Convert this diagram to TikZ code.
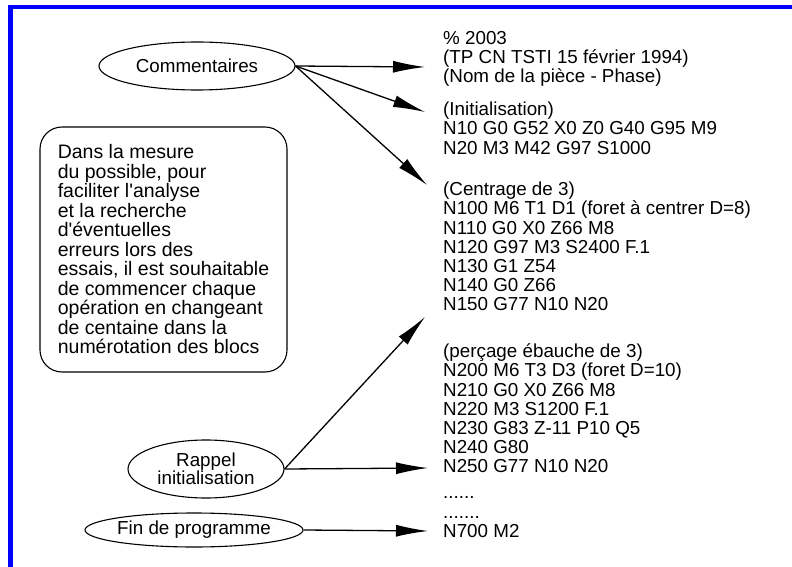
\documentclass[tikz,border=0pt]{standalone}
\usepackage{fontspec}
\setmainfont{Liberation Sans}
\usetikzlibrary{arrows.meta,matrix,shapes.geometric}

\begin{document}
\begin{tikzpicture}[x=1pt,y=1pt,
  every node/.style={font=\fontsize{18.8}{19.2}\selectfont},
  bulle/.style={draw,ellipse,line width=1.1pt,inner sep=0pt,align=center},
  fleche/.style={line width=1.3pt,-{Latex[length=32pt,width=12pt]}}]
\useasboundingbox (0,0) rectangle (792,-567);
\fill[blue] (8,-5) rectangle (792,-9.5);
\fill[blue] (8,-5) rectangle (13,-567);

\node[bulle,minimum width=196pt,minimum height=48pt] (com) at (197,-66) {Commentaires};
\node[draw,line width=1.1pt,rounded corners=22pt,align=left,minimum width=247pt,minimum height=245pt,
  font=\fontsize{19.5}{19.5}\selectfont] (note) at (163.5,-249.5) {Dans la mesure\\du possible, pour\\faciliter l\textquotesingle analyse\\et la recherche\\d\textquotesingle éventuelles\\erreurs lors des\\essais, il est souhaitable\\de commencer chaque\\opération en changeant\\de centaine dans la\\numérotation des blocs};
\node[bulle,minimum width=156pt,minimum height=58pt,font=\fontsize{18.8}{16.5}\selectfont] (rap) at (206,-469) {Rappel\\initialisation};
\node[bulle,minimum width=218pt,minimum height=34pt] (fin) at (194,-530) {Fin de programme};

\matrix (m)[matrix of nodes, anchor=north west, inner sep=0pt, row sep=0pt,
  nodes={anchor=base west,inner sep=0pt,text height=15pt,text depth=4.2pt}] at (443,-29.2) {
\% 2003\\
(TP CN TSTI 15 février 1994)\\
(Nom de la pièce - Phase)\\[13.6pt]
(Initialisation)\\
N10 G0 G52 X0 Z0 G40 G95 M9\\
N20 M3 M42 G97 S1000\\[22.4pt]
(Centrage de 3)\\
N100 M6 T1 D1 (foret à centrer D=8)\\
N110 G0 X0 Z66 M8\\
N120 G97 M3 S2400 F.1\\
N130 G1 Z54\\
N140 G0 Z66\\
N150 G77 N10 N20\\[27.6pt]
(perçage ébauche de 3)\\
N200 M6 T3 D3 (foret D=10)\\
N210 G0 X0 Z66 M8\\
N220 M3 S1200 F.1\\
N230 G83 Z-11 P10 Q5\\
N240 G80\\
N250 G77 N10 N20\\[6.8pt]
......\\
.......\\
N700 M2\\
};

\coordinate (t1) at (425,-67);
\coordinate (t2) at (425,-112);
\coordinate (t3) at (427,-185);
\coordinate (t4) at (425,-317);
\coordinate (t5) at (428,-468);
\coordinate (t6) at (428,-531);

\draw[fleche] (com.east)--(t1);
\draw[fleche] (com.east)--(t2);
\draw[fleche] (com.east)--(t3);
\draw[fleche] (rap.east)--(t4);
\draw[fleche] (rap.east)--(t5);
\draw[fleche] (fin.east)--(t6);
\end{tikzpicture}
\end{document}
